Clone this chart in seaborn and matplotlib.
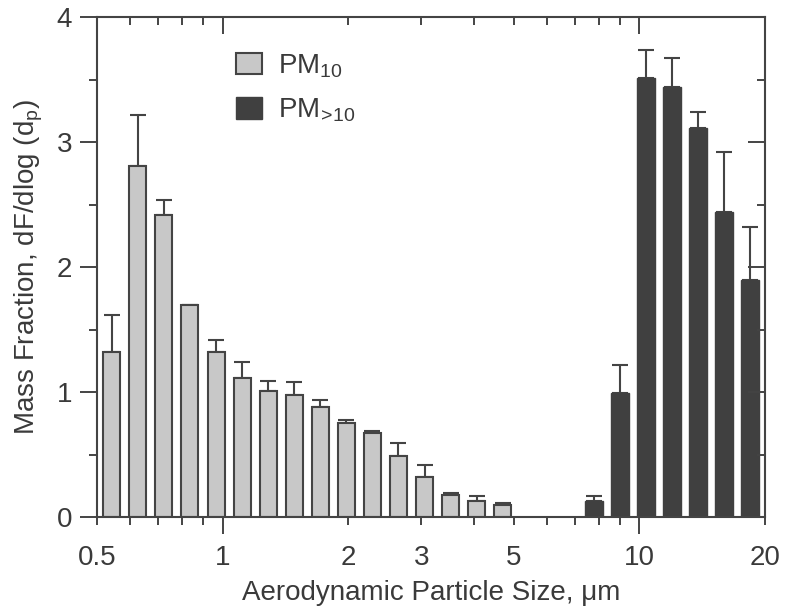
import numpy as np
import pandas as pd
import matplotlib
matplotlib.use("Agg")
import matplotlib.pyplot as plt
import seaborn as sns

# ---------------- data ----------------
# APS channel midpoints (um), every other channel
light_size = [0.542, 0.626, 0.723, 0.835, 0.965, 1.114, 1.286, 1.486,
              1.715, 1.981, 2.288, 2.642, 3.051, 3.523, 4.068, 4.698]
light_val = [1.32, 2.81, 2.42, 1.70, 1.32, 1.11, 1.01, 0.98,
             0.88, 0.75, 0.67, 0.49, 0.32, 0.18, 0.13, 0.10]
light_err = [0.30, 0.41, 0.12, 0.0, 0.10, 0.13, 0.08, 0.10,
             0.06, 0.03, 0.02, 0.10, 0.10, 0.01, 0.04, 0.01]

dark_size = [7.774, 8.977, 10.37, 11.97, 13.82, 15.96, 18.43]
dark_val = [0.13, 0.99, 3.51, 3.44, 3.11, 2.44, 1.90]
dark_err = [0.04, 0.23, 0.23, 0.23, 0.13, 0.48, 0.42]

x_minor = [0.5, 0.6, 0.7, 0.8, 0.9, 2, 3, 4, 5, 6, 7, 8, 9, 20]
x_minor_labels = ["0.5", "", "", "", "", "2", "3", "", "5", "", "", "", "", "20"]

# ---------------- style ----------------
sns.set_style("ticks")
plt.rcParams["font.family"] = ["Liberation Sans", "DejaVu Sans"]
plt.rcParams["mathtext.fontset"] = "custom"
plt.rcParams["mathtext.rm"] = "Liberation Sans"
plt.rcParams["mathtext.default"] = "regular"
plt.rcParams["font.size"] = 20
txt = "#3a3a3a"
line = "#444444"
plt.rcParams["text.color"] = txt
plt.rcParams["axes.labelcolor"] = txt
plt.rcParams["xtick.color"] = line
plt.rcParams["ytick.color"] = line
plt.rcParams["xtick.labelcolor"] = txt
plt.rcParams["ytick.labelcolor"] = txt

light_df = pd.DataFrame({"size": light_size, "val": light_val})
dark_df = pd.DataFrame({"size": dark_size, "val": dark_val})

fig = plt.figure(figsize=(7.85, 6.16), dpi=100)
ax = fig.add_axes([0.1236, 0.1607, 0.8509, 0.8117])

sns.barplot(data=light_df, x="size", y="val", native_scale=True, log_scale=(True, False),
            orient="x", width=0.65, color="#c8c8c8", saturation=1,
            edgecolor=line, linewidth=1.5, label=r"PM$_{10}$", ax=ax)
sns.barplot(data=dark_df, x="size", y="val", native_scale=True, log_scale=(True, False),
            orient="x", width=0.70, color="#404040", saturation=1,
            edgecolor="#404040", linewidth=1.0, label=r"PM$_{\!>\!10}$", ax=ax)

# upper error bars only
ax.errorbar(light_size, light_val, yerr=[np.zeros(len(light_err)), light_err],
            fmt="none", ecolor=line, elinewidth=1.5, capsize=6, capthick=1.5, zorder=0.5)
ax.errorbar(dark_size, dark_val, yerr=[np.zeros(len(dark_err)), dark_err],
            fmt="none", ecolor=line, elinewidth=1.5, capsize=6, capthick=1.5, zorder=0.5)

ax.set_xscale("log")
ax.set_xlim(0.5, 20)
ax.set_ylim(0, 4)
ax.set_xticks([1, 10], labels=["1", "10"])
ax.set_xticks(x_minor, labels=x_minor_labels, minor=True)
ax.set_yticks([0, 1, 2, 3, 4])
ax.set_yticks(np.arange(0, 4.01, 0.5), minor=True)

ax.tick_params(which="major", direction="out", length=12, width=1.4, labelsize=20)
ax.tick_params(which="minor", direction="out", length=6, width=1.4, labelsize=20)
ax.tick_params(axis="x", which="major", pad=8)
ax.tick_params(axis="x", which="minor", pad=14.5)
ax.tick_params(axis="y", which="major", pad=6)

for s in ax.spines.values():
    s.set_visible(True)
    s.set_color(line)
    s.set_linewidth(1.5)

ax.set_xlabel("Aerodynamic Particle Size, \u03bcm", fontsize=20, labelpad=6)
ax.set_ylabel(r"Mass Fraction, dF/dlog (d$_p$)", fontsize=20, labelpad=8)

# top / right inward ticks
ax2 = fig.add_axes(ax.get_position(), sharex=ax, sharey=ax, frameon=False)
ax2.tick_params(which="both", direction="in", top=True, right=True, bottom=False, left=False,
                labeltop=False, labelright=False, labelbottom=False, labelleft=False, width=1.4)
ax2.tick_params(which="major", length=12)
ax2.tick_params(which="minor", length=6)

ax.legend(frameon=False, loc="upper left", bbox_to_anchor=(0.208, 0.929), fontsize=20,
          handlelength=0.95, handleheight=0.8, handletextpad=0.55, labelspacing=0.6,
          borderaxespad=0, borderpad=0)

fig.savefig("out.png", dpi=100)
